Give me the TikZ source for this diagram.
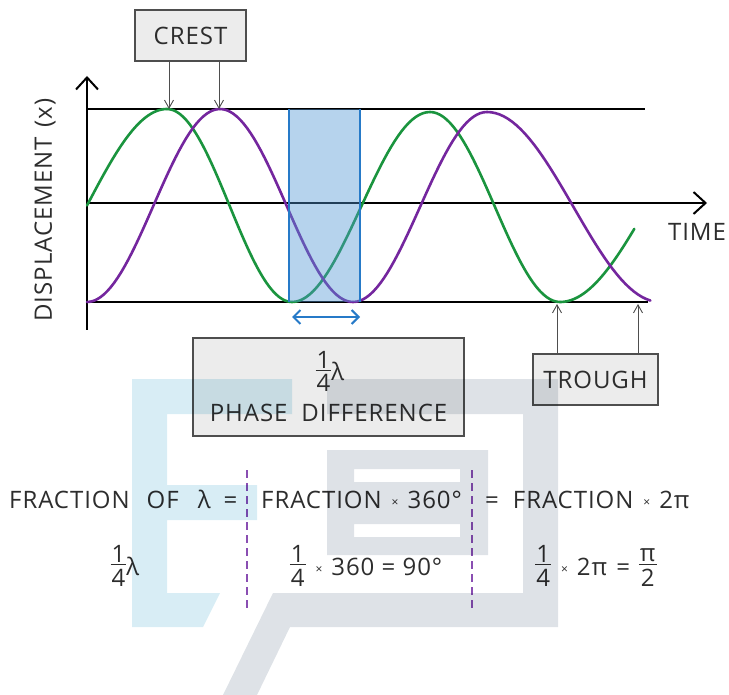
\documentclass[tikz,border=0pt]{standalone}
\usepackage{fontspec}
\setmainfont{Open Sans}[LetterSpace=4]
\usetikzlibrary{arrows.meta}

\definecolor{wavegreen}{RGB}{26,148,62}
\definecolor{wavepurple}{RGB}{116,38,158}
\definecolor{bandblue}{RGB}{38,122,200}
\definecolor{boxgray}{RGB}{236,236,236}
\definecolor{edgegray}{RGB}{78,78,78}
\definecolor{inkgray}{RGB}{45,45,45}
\definecolor{dividerpurple}{RGB}{138,78,178}
\definecolor{markblue}{RGB}{216,237,245}
\definecolor{markgray}{RGB}{222,226,231}

% stacked fraction in the text font, bar a little above the baseline
\newcommand\qfrac[2]{\raisebox{-11pt}{\vbox{\halign{\hfil\kern1pt##\kern1pt\hfil\cr
  #1\cr\noalign{\kern2pt\hrule height0.9pt\kern3.5pt}#2\cr}}}}
% small times sign
\newcommand\tms{\hspace{10pt}\raisebox{2pt}{\fontsize{12}{12}\selectfont ×}\hspace{9pt}}

\begin{document}
\begin{tikzpicture}[x=1pt,y=-1pt,
    every node/.style={font=\fontsize{24}{29}\selectfont,text=inkgray},
    axis/.style={line width=2.2pt,black},
    axistip/.style={-{Straight Barb[length=12pt,width=22pt,line width=2pt]}},
    wavebox/.style={draw=edgegray,fill=boxgray,line width=1.1pt,inner sep=0pt},
    eqtext/.style={inner sep=0pt},
    pointer/.style={edgegray,line width=0.9pt,-{Straight Barb[length=8pt,width=9pt]}},
    greenwave/.style={wavegreen,line width=2.6pt,line cap=round},
    purplewave/.style={wavepurple,line width=2.6pt,line cap=round},
    bandedge/.style={bandblue,line width=2.4pt},
    divider/.style={dividerpurple,line width=1.4pt,dash pattern=on 8pt off 5pt}]
  \useasboundingbox (0,0) rectangle (729,695);

  % axes and guide lines
  \draw[axis,axistip] (87,330) -- (87,76);
  \draw[axis,axistip] (87,203) -- (707,203);
  \draw[axis] (87,109) -- (645,109);
  \draw[axis] (87,302) -- (648,302);
  \node[rotate=90] (ylab) at (45,210) {DISPLACEMENT\hspace{10pt}(x)};
  \node (tlab) at (697,232) {TIME};

  % the two waves, half a cycle at a time
  \foreach \xa/\ya/\xb/\yb/\ts/\te in {7/302/167/109/90/180,167/109/292/302/0/180,
      292/302/430/112/0/180,430/112/560/302/0/180,560/302/736/109/0/76}
    \draw[greenwave] plot[domain=\ts:\te,samples=40,variable=\t]
      ({\xa+(\xb-\xa)*(\t/180)},{(\ya+\yb)/2+(\ya-\yb)/2*cos(\t)});
  \foreach \xa/\ya/\xb/\yb/\ts/\te in {87/302/220/109/0/180,220/109/353/302/0/180,
      353/302/487/112/0/180,487/112/660/302/0/170}
    \draw[purplewave] plot[domain=\ts:\te,samples=40,variable=\t]
      ({\xa+(\xb-\xa)*(\t/180)},{(\ya+\yb)/2+(\ya-\yb)/2*cos(\t)});

  % quarter wave band
  \fill[bandblue!80,fill opacity=0.42] (289,109) rectangle (360,302);
  \draw[bandedge] (289,109) -- (289,302) (360,109) -- (360,302);
  \coordinate (pa) at (292,317);
  \coordinate (pb) at (360,317);
  \draw[bandblue,line width=2pt,{Straight Barb[length=7pt,width=14pt]}-{Straight Barb[length=7pt,width=14pt]}] (pa) -- (pb);

  % labels
  \node[wavebox,minimum width=111pt,minimum height=51pt] (crest) at (190.5,35.5) {CREST};
  \node[wavebox,minimum width=125pt,minimum height=51pt] (trough) at (595.5,379.5) {TROUGH};
  \node[wavebox,minimum width=271pt,minimum height=98pt] (phase) at (328.5,387) {};
  \node[eqtext,anchor=base] (phlam) at (330,381) {\qfrac14λ};
  \node[eqtext,anchor=base] (phname) at (328.5,421) {PHASE\hspace{14pt}DIFFERENCE};
  \coordinate (cg) at (169,109);
  \coordinate (cp) at (219,109);
  \coordinate (tg) at (557,304);
  \coordinate (tp) at (638,304);
  \draw[pointer] (crest.south -| cg) -- (cg);
  \draw[pointer] (crest.south -| cp) -- (cp);
  \draw[pointer] (trough.north -| tg) -- (tg);
  \draw[pointer] (trough.north -| tp) -- (tp);

  % conversions
  \node[eqtext,anchor=base west] (eqa) at (9,508) {FRACTION\hspace{17pt}OF\hspace{19pt}λ\hspace{13pt}=};
  \node[eqtext,anchor=base west] (eqb) at (261,508) {FRACTION\tms 360°};
  \node[eqtext,anchor=base west] (eqc) at (485,508) {=\hspace{14pt}FRACTION\tms 2π};
  \node[eqtext,anchor=base] (resa) at (125,575) {\qfrac14λ};
  \node[eqtext,anchor=base] (resb) at (366,575) {\qfrac14\tms 360 = 90°};
  \node[eqtext,anchor=base] (resc) at (596,575) {\qfrac14\tms 2π\hspace{9pt}=\hspace{9pt}\qfrac{π}{2}};
  \draw[divider] (247,470) -- (247,610);
  \draw[divider] (472,470) -- (472,610);

  % faint logo behind
  \begin{scope}[blend mode=multiply]
    \fill[markblue] (132,379) -- (292,379) -- (292,414) -- (167,414) -- (167,485) -- (257,485)
      -- (257,520) -- (167,520) -- (167,593) -- (220,593) -- (203,627) -- (132,627) -- cycle;
    \fill[markgray] (327,379) -- (558,379) -- (558,627) -- (290,627) -- (257,695) -- (223,695)
      -- (273,593) -- (523,593) -- (523,414) -- (327,414) -- cycle;
    \fill[markgray,even odd rule] (327,450) rectangle (488,555) (354,469) rectangle (460,482)
      (354,524) rectangle (460,537);
  \end{scope}
\end{tikzpicture}
\end{document}
